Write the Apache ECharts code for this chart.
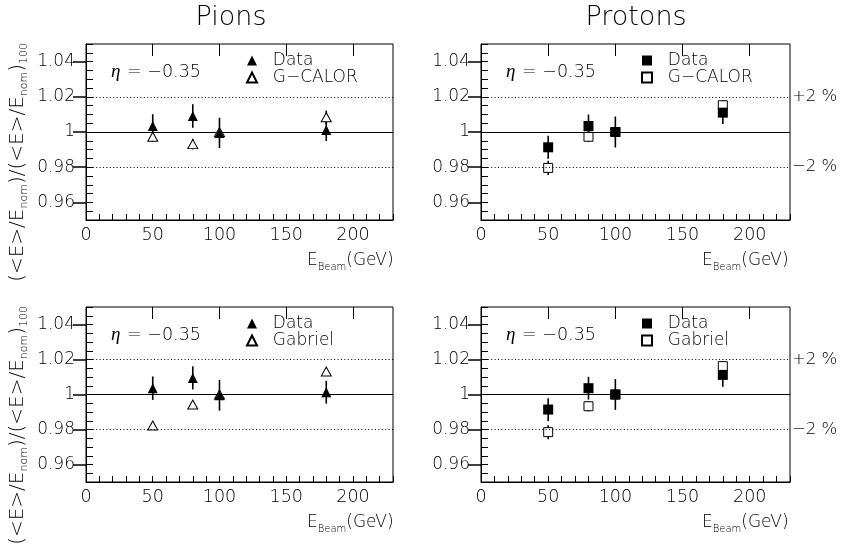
<!DOCTYPE html>
<html>
<head>
<meta charset="utf-8">
<script src="https://cdn.jsdelivr.net/npm/echarts@6/dist/echarts.min.js"></script>
<style>html,body{margin:0;padding:0;background:#fff}#c{width:841px;height:548px}</style>
</head>
<body>
<div id="c"></div>
<script>
// ---- data ----
const energies = [50, 80, 100, 180];
// Pions, top (vs G-CALOR)
const pionDataTop = [1.0034, 1.0091, 0.9995, 1.0011];
const pionDataTopErr = [0.0067, 0.0067, 0.0086, 0.0062];
const pionGcalor = [0.9973, 0.9931, 1.0, 1.0084];
const pionGcalorErr = [0.003, 0.003, 0.0, 0.0038];
// Protons, top (vs G-CALOR)
const protonDataTop = [0.9913, 1.0034, 1.0, 1.011];
const protonDataTopErr = [0.0065, 0.0065, 0.0088, 0.0065];
const protonGcalor = [0.9796, 0.9973, 1.0, 1.0152];
const protonGcalorErr = [0.004, 0.003, 0.0, 0.003];
// Pions, bottom (vs Gabriel)
const pionDataBot = [1.0036, 1.0095, 0.9996, 1.0013];
const pionDataBotErr = [0.0067, 0.0066, 0.0088, 0.0065];
const pionGabriel = [0.9823, 0.9943, 1.0, 1.0131];
const pionGabrielErr = [0.002, 0.002, 0.0, 0.002];
// Protons, bottom (vs Gabriel)
const protonDataBot = [0.9914, 1.0036, 1.0, 1.0112];
const protonDataBotErr = [0.0065, 0.0065, 0.0088, 0.0067];
const protonGabriel = [0.9785, 0.9933, 1.0, 1.0162];
const protonGabrielErr = [0.004, 0.003, 0.0, 0.003];

const xTickLabels = [0, 50, 100, 150, 200];
const yTickLabels = [0.96, 0.98, 1, 1.02, 1.04];
const refLines = [0.98, 1.0, 1.02];
const titles = ['Pions', 'Protons'];
const etaText = '−0.35';

// ---- layout ----
const FONT = 'DejaVu Sans';
const FW = 200;
const grids = [
  {left: 86, top: 44, width: 307, height: 176},
  {left: 481, top: 44, width: 309, height: 176},
  {left: 86, top: 307, width: 307, height: 175},
  {left: 481, top: 307, width: 309, height: 175}
];
const panels = [
  {data: pionDataTop, dErr: pionDataTopErr, sim: pionGcalor, sErr: pionGcalorErr, simName: 'G−CALOR', shape: 'triangle', pct: false},
  {data: protonDataTop, dErr: protonDataTopErr, sim: protonGcalor, sErr: protonGcalorErr, simName: 'G−CALOR', shape: 'rect', pct: true},
  {data: pionDataBot, dErr: pionDataBotErr, sim: pionGabriel, sErr: pionGabrielErr, simName: 'Gabriel', shape: 'triangle', pct: false},
  {data: protonDataBot, dErr: protonDataBotErr, sim: protonGabriel, sErr: protonGabrielErr, simName: 'Gabriel', shape: 'rect', pct: true}
];

const xAxes = [], yAxes = [], series = [], legends = [], graphics = [];

function errRender(params, api) {
  const x = api.value(0), y = api.value(1), e = api.value(2);
  const p1 = api.coord([x, y - e]);
  const p2 = api.coord([x, y + e]);
  return {type: 'line', shape: {x1: p1[0], y1: p1[1], x2: p2[0], y2: p2[1]},
          style: {stroke: '#000', lineWidth: 1.6}};
}

panels.forEach((p, g) => {
  grids[g].show = true;
  grids[g].borderColor = '#000';
  grids[g].borderWidth = 1;
  grids[g].backgroundColor = 'transparent';
  xAxes.push({
    type: 'value', gridIndex: g, min: 0, max: 230, interval: 10,
    axisLine: {show: true, lineStyle: {color: '#000', width: 1}},
    axisTick: {show: true, inside: true, length: 6, lineStyle: {color: '#000', width: 1}},
    splitLine: {show: false},
    axisLabel: {show: true, margin: 6, color: '#000', fontFamily: FONT, fontWeight: FW, fontSize: 17.5,
      formatter: v => (xTickLabels.indexOf(Math.round(v)) >= 0 ? String(Math.round(v)) : '')}
  });
  xAxes.push({
    type: 'value', gridIndex: g, min: 0, max: 230, interval: 10,
    axisLine: {show: false},
    axisTick: {show: true, inside: true, length: 12, customValues: xTickLabels, lineStyle: {color: '#000', width: 1}},
    splitLine: {show: false}, axisLabel: {show: false}
  });
  yAxes.push({
    type: 'value', gridIndex: g, min: 0.95, max: 1.05, interval: 0.005,
    axisLine: {show: true, lineStyle: {color: '#000', width: 1}},
    axisTick: {show: true, inside: true, length: 7, lineStyle: {color: '#000', width: 1}},
    splitLine: {show: false},
    axisLabel: {show: true, margin: 11, color: '#000', fontFamily: FONT, fontWeight: FW, fontSize: 17,
      formatter: v => {
        const k = Math.round(v * 1000);
        const hit = yTickLabels.find(t => Math.round(t * 1000) === k);
        return hit !== undefined ? String(hit) : '';
      }}
  });
  yAxes.push({
    type: 'value', gridIndex: g, min: 0.95, max: 1.05, interval: 0.005,
    axisLine: {show: false},
    axisTick: {show: true, inside: true, length: 13, customValues: yTickLabels, lineStyle: {color: '#000', width: 1.5}},
    splitLine: {show: false}, axisLabel: {show: false}
  });
  yAxes.push({
    type: 'value', gridIndex: g, position: 'right', min: 0.95, max: 1.05, interval: 0.005,
    axisLine: {show: false}, axisTick: {show: false}, splitLine: {show: false},
    axisLabel: {show: p.pct, margin: 2, color: '#000', fontFamily: FONT, fontWeight: FW, fontSize: 16.5,
      formatter: v => {
        const k = Math.round(v * 1000);
        return k === 1020 ? '+2 %' : (k === 980 ? '−2 %' : '');
      }}
  });
  const xi = 2 * g, yi = 3 * g;
  series.push({
    type: 'line', xAxisIndex: xi, yAxisIndex: yi, data: [], silent: true,
    markLine: {
      silent: true, symbol: 'none', animation: false, label: {show: false},
      data: refLines.map(v => ({yAxis: v, lineStyle: {color: '#000', width: 1, type: v === 1 ? 'solid' : [1, 2.4]}}))
    }
  });
  series.push({
    type: 'custom', xAxisIndex: xi, yAxisIndex: yi, renderItem: errRender, silent: true,
    data: energies.map((x, i) => [x, p.sim[i], p.sErr[i]])
  });
  series.push({
    type: 'custom', xAxisIndex: xi, yAxisIndex: yi, renderItem: errRender, silent: true,
    data: energies.map((x, i) => [x, p.data[i], p.dErr[i]])
  });
  const simId = p.simName + '#' + g, dataId = 'Data#' + g;
  series.push({
    name: simId, type: 'scatter', xAxisIndex: xi, yAxisIndex: yi, symbol: p.shape,
    symbolSize: p.shape === 'rect' ? 9 : [10, 9],
    itemStyle: {color: '#fff', borderColor: '#000', borderWidth: 1, opacity: 1},
    data: energies.map((x, i) => [x, p.sim[i]])
  });
  series.push({
    name: dataId, type: 'scatter', xAxisIndex: xi, yAxisIndex: yi, symbol: p.shape,
    symbolSize: p.shape === 'rect' ? 10 : [10, 10],
    itemStyle: {color: '#000', opacity: 1},
    data: energies.map((x, i) => [x, p.data[i]])
  });
  const gr = grids[g];
  legends.push({
    orient: 'vertical', left: gr.left + 160, top: gr.top + 8, padding: 0,
    itemWidth: 10, itemHeight: 10, itemGap: 0, selectedMode: false,
    data: [dataId, simId],
    formatter: n => '  ' + n.split('#')[0],
    textStyle: {fontFamily: FONT, fontWeight: FW, fontSize: 17, color: '#000', lineHeight: 17}
  });
  graphics.push({
    type: 'text', x: gr.left + 25, y: gr.top + 28,
    style: {
      text: '{eta|η}  {t|= ' + etaText + '}', verticalAlign: 'middle',
      rich: {
        eta: {fontFamily: 'Liberation Serif', fontStyle: 'italic', fontSize: 19, fill: '#000', verticalAlign: 'middle'},
        t: {fontFamily: FONT, fontWeight: FW, fontSize: 17.5, fill: '#000', verticalAlign: 'middle'}
      }
    }
  });
  graphics.push({
    type: 'text', x: gr.left + 221, y: gr.top + gr.height + 41,
    style: {
      text: '{m|E}{s|Beam}{m|(GeV)}', verticalAlign: 'middle',
      rich: {
        m: {fontFamily: FONT, fontWeight: FW, fontSize: 17, fill: '#000', lineHeight: 22, verticalAlign: 'middle'},
        s: {fontFamily: FONT, fontWeight: FW, fontSize: 10, fill: '#000', lineHeight: 10, verticalAlign: 'bottom'}
      }
    }
  });
});

titles.forEach((t, i) => {
  graphics.push({
    type: 'text', x: i === 0 ? 231 : 636, y: 18,
    style: {text: t, fontFamily: FONT, fontWeight: FW, fontSize: 27, fill: '#000', align: 'center', verticalAlign: 'middle'}
  });
});
[43, 306].forEach(y => {
  graphics.push({
    type: 'text', x: 18, y: y, rotation: Math.PI / 2,
    style: {
      text: '{m|(<E>/E}{s|nom}{m|)/(<E>/E}{s|nom}{m|)}{s|100}', align: 'right', verticalAlign: 'middle',
      rich: {
        m: {fontFamily: FONT, fontWeight: FW, fontSize: 20, fill: '#000', lineHeight: 24, verticalAlign: 'middle'},
        s: {fontFamily: FONT, fontWeight: FW, fontSize: 11, fill: '#000', lineHeight: 11, verticalAlign: 'bottom'}
      }
    }
  });
});

const chart = echarts.init(document.getElementById('c'), null, {renderer: 'canvas'});
chart.setOption({
  animation: false,
  backgroundColor: '#fff',
  grid: grids,
  xAxis: xAxes,
  yAxis: yAxes,
  legend: legends,
  series: series,
  graphic: graphics
});
</script>
</body>
</html>
